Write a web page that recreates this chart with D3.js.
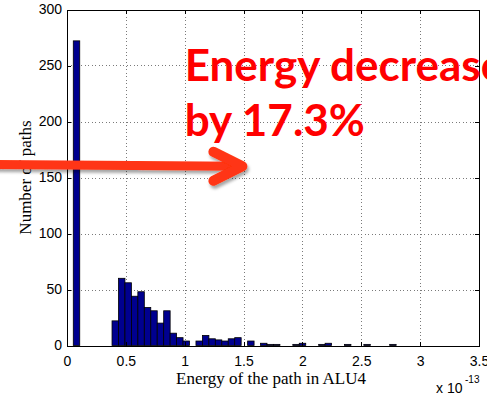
<!DOCTYPE html>
<html>
<head>
<meta charset="utf-8">
<script src="https://cdn.jsdelivr.net/npm/d3@7"></script>
<style>
  html, body { margin: 0; padding: 0; background: #fff; }
  svg { display: block; }
</style>
</head>
<body>
<svg id="chart" width="487" height="394"></svg>
<script>
// Histogram of path energies in ALU4: 50 equal-width bins, energies in units of 1e-13
const binRange = [0.0534, 2.796];
const pathCounts = [
  272, 0, 0, 0, 0, 0, 22, 60, 56, 44,
  48, 34, 31, 20, 31, 11, 7, 4, 0, 4,
  9, 6, 5, 4, 6, 7, 0, 4, 0, 2,
  1, 1, 0, 0, 1, 2, 0, 0, 1, 2,
  0, 0, 1, 0, 0, 1, 0, 0, 0, 1
];
const xTicks = [0, 0.5, 1, 1.5, 2, 2.5, 3, 3.5];
const yTicks = [0, 50, 100, 150, 200, 250, 300];
const xExponent = "-13";
const xLabel = "Energy of the path in ALU4";
const yLabel = "Number of paths";
const calloutLines = ["Energy decreases", "by 17.3%"];

const svg = d3.select("#chart");
const W = 487, H = 394;
const plot = { left: 67, right: 479, top: 9.5, bottom: 345.5 };

const x = d3.scaleLinear().domain([0, 3.5]).range([plot.left, plot.right]);
const y = d3.scaleLinear().domain([0, 300]).range([plot.bottom, plot.top]);

// bins laid out the way hist() spaces them between the data extremes
const binWidth = (binRange[1] - binRange[0]) / pathCounts.length;
const bins = pathCounts.map((c, i) => ({
  x0: binRange[0] + i * binWidth,
  x1: binRange[0] + (i + 1) * binWidth,
  count: c
}));

const axisFont = "'Liberation Sans', Arial, Helvetica, sans-serif";
const serifFont = "'Liberation Serif', 'Times New Roman', Times, serif";

// dotted grid
const grid = svg.append("g").attr("stroke", "#7a7a7a").attr("stroke-width", 1)
  .attr("stroke-dasharray", "1,2.5").attr("shape-rendering", "crispEdges");
grid.selectAll("line.gx").data(xTicks.filter(t => t > 0 && t < 3.5)).enter()
  .append("line")
  .attr("x1", d => Math.round(x(d)) + 0.5).attr("x2", d => Math.round(x(d)) + 0.5)
  .attr("y1", plot.top).attr("y2", plot.bottom);
grid.selectAll("line.gy").data(yTicks.filter(t => t > 0 && t < 300)).enter()
  .append("line")
  .attr("y1", d => Math.round(y(d)) + 0.5).attr("y2", d => Math.round(y(d)) + 0.5)
  .attr("x1", plot.left).attr("x2", plot.right);

// bars
svg.append("g").selectAll("rect").data(bins.filter(b => b.count > 0)).enter()
  .append("rect")
  .attr("x", d => x(d.x0))
  .attr("width", d => x(d.x1) - x(d.x0))
  .attr("y", d => y(d.count))
  .attr("height", d => y(0) - y(d.count))
  .attr("fill", "#00008f")
  .attr("stroke", "#000")
  .attr("stroke-width", 0.8);

// axes box with inward ticks on all four sides
const tickLen = 4;
const axesG = svg.append("g").attr("shape-rendering", "crispEdges");
const xBottom = d3.axisBottom(x).tickValues(xTicks).tickSizeInner(-tickLen).tickSizeOuter(0)
  .tickFormat(d3.format("~g"));
const xTop = d3.axisTop(x).tickValues(xTicks).tickSizeInner(-tickLen).tickSizeOuter(0)
  .tickFormat("");
const yLeft = d3.axisLeft(y).tickValues(yTicks).tickSizeInner(-tickLen).tickSizeOuter(0);
const yRight = d3.axisRight(y).tickValues(yTicks).tickSizeInner(-tickLen).tickSizeOuter(0)
  .tickFormat("");

function styleAxis(g) {
  g.selectAll("path").attr("stroke", "#000").attr("stroke-width", 1);
  g.selectAll("line").attr("stroke", "#000").attr("stroke-width", 1);
  g.selectAll("text").attr("fill", "#000").attr("font-family", axisFont).attr("font-size", 14);
}

const gxb = axesG.append("g").attr("transform", `translate(0,${plot.bottom})`).call(xBottom);
gxb.selectAll("text").attr("dy", null).attr("y", 20);
styleAxis(gxb);
const gxt = axesG.append("g").attr("transform", `translate(0,${plot.top})`).call(xTop);
styleAxis(gxt);
const gyl = axesG.append("g").attr("transform", `translate(${plot.left},0)`).call(yLeft);
gyl.selectAll("text").attr("x", -5);
styleAxis(gyl);
const gyr = axesG.append("g").attr("transform", `translate(${plot.right},0)`).call(yRight);
styleAxis(gyr);

// axis titles
svg.append("text")
  .attr("x", (plot.left + plot.right) / 2 - 2).attr("y", 383.5)
  .attr("text-anchor", "middle")
  .attr("font-family", serifFont).attr("font-size", 17).attr("fill", "#000")
  .text(xLabel);

svg.append("text")
  .attr("transform", `translate(31,${(plot.top + plot.bottom) / 2}) rotate(-90)`)
  .attr("text-anchor", "middle")
  .attr("font-family", serifFont).attr("font-size", 17).attr("fill", "#000")
  .text(yLabel);

// x multiplier
const mult = svg.append("g").attr("font-family", axisFont).attr("fill", "#000");
mult.append("text").attr("x", 436).attr("y", 393).attr("font-size", 14).text("x 10");
mult.append("text").attr("x", 465).attr("y", 382.5).attr("font-size", 10).text(xExponent);

// callout arrow with soft drop shadow
const defs = svg.append("defs");
const f = defs.append("filter").attr("id", "arrowShadow")
  .attr("x", "-10%").attr("y", "-50%").attr("width", "130%").attr("height", "200%");
f.append("feDropShadow").attr("dx", 1.5).attr("dy", 3).attr("stdDeviation", 1.5)
  .attr("flood-color", "#000").attr("flood-opacity", 0.35);

const tip = { x: x(1.49), y: y(160) };
const tail = { x: -6, y: y(161.5) };
const arrow = svg.append("g").attr("filter", "url(#arrowShadow)")
  .attr("stroke", "#ff3412").attr("fill", "none")
  .attr("stroke-linecap", "round").attr("stroke-linejoin", "round");
arrow.append("line")
  .attr("x1", tail.x).attr("y1", tail.y).attr("x2", tip.x - 3).attr("y2", tip.y)
  .attr("stroke-width", 9);
arrow.append("path")
  .attr("d", d3.line()([[tip.x - 29, tip.y - 14.5], [tip.x, tip.y], [tip.x - 29, tip.y + 14.5]]))
  .attr("stroke-width", 10);

// callout text
const callout = svg.append("text")
  .attr("font-family", "Lato, 'Open Sans', 'Noto Sans', sans-serif")
  .attr("font-weight", 700).attr("font-size", 44).attr("fill", "#ff0000");
callout.selectAll("tspan").data(calloutLines).enter().append("tspan")
  .attr("x", x(1.0))
  .attr("y", (d, i) => [y(236.5), y(187)][i])
  .text(d => d);
</script>
</body>
</html>
